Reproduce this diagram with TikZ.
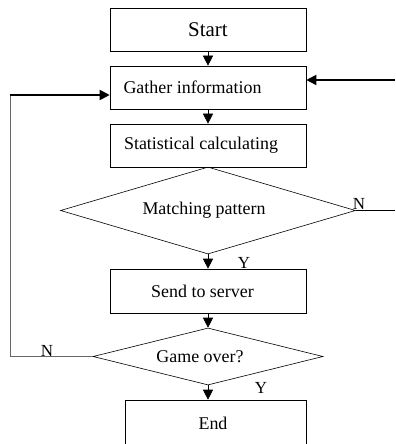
\documentclass[tikz,border=0pt]{standalone}
\usepackage{fontspec}
\setmainfont{Liberation Serif}
\usetikzlibrary{shapes.geometric,arrows.meta}
\tikzset{
	box/.style={draw, rectangle, minimum width=196bp, minimum height=43bp, inner sep=0pt, font=\fontsize{18}{21}\selectfont},
	decision/.style={draw, diamond, inner sep=0pt, font=\fontsize{18}{21}\selectfont},
	tag/.style={font=\fontsize{17}{20}\selectfont, inner sep=0pt},
	loopline/.style={->, line width=1.8pt},
}
\begin{document}
\begin{tikzpicture}[x=1bp, y=-1bp, line width=0.6pt, >={Triangle[length=10bp,width=10bp]}]
	\useasboundingbox (0,0) rectangle (395,444);

	\node[box, font=\fontsize{21}{24}\selectfont] (start) at (208,29.5) {Start};
	\node[box] (gather) at (208,87.5) {Gather information\kern31bp};
	\node[box] (stat) at (208,145.5) {Statistical calculating\kern14bp};
	\node[decision, minimum width=295bp, minimum height=87bp, aspect=3.4] (match) at (208,210.5) {Matching pattern\kern8bp};
	\node[box, minimum height=44bp] (send) at (208,291) {Send to server\kern11bp};
	\node[decision, minimum width=230bp, minimum height=57bp, aspect=4] (game) at (208,356.5) {\raisebox{-4bp}{Game over?}\kern16bp};
	\node[box, minimum width=181bp, minimum height=46bp] (end) at (215.5,423) {End\kern5bp};

	\draw[->] (start) -- (gather);
	\draw[->] (gather) -- (stat);
	\draw (stat) -- (match);
	\draw[->] (match) -- (send);
	\draw[->] (send) -- (game);
	\draw[->] (game.south) -- (game.south |- end.north);

	% no match: leaves to the right
	\coordinate (nout) at (395,210.5);
	\draw (match.east) -- (nout);
	\node[tag] (nmatch) at (359,204) {N};
	\node[tag] (ymatch) at (244,263) {Y};

	% back into gather
	\coordinate (rin) at (395,80);
	\draw[loopline] (rin) -- (rin -| gather.east);
	\coordinate (lcorner) at (10,356.5);
	\coordinate (lup) at (10,95);
	\draw[gray!80!black] (game.west) -- (lcorner) -- (lup);
	\draw[loopline] (lup) -- (lup -| gather.west);
	\node[tag] (ngame) at (47,351) {N};
	\node[tag] (ygame) at (261,388) {Y};
\end{tikzpicture}
\end{document}
